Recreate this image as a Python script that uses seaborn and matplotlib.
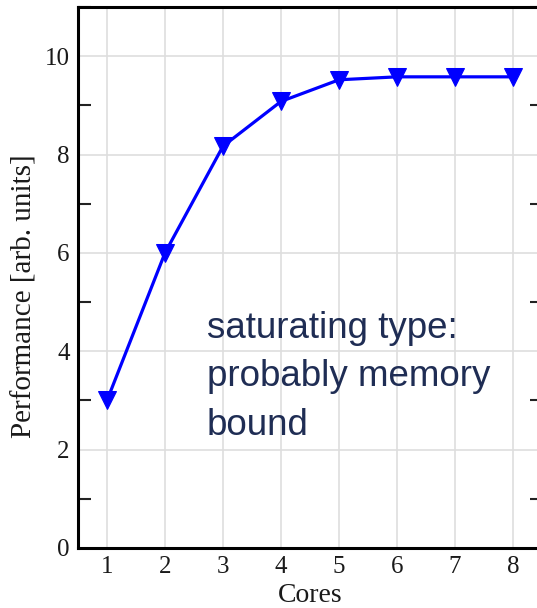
import matplotlib
matplotlib.use("Agg")
import matplotlib.pyplot as plt
import seaborn as sns
import pandas as pd
from matplotlib.ticker import MultipleLocator

cores = [1, 2, 3, 4, 5, 6, 7, 8]
performance = [3.0, 6.0, 8.17, 9.08, 9.52, 9.58, 9.58, 9.58]
annotation = "saturating type:\nprobably memory\nbound"

df = pd.DataFrame({"Cores": cores, "Performance": performance})

sns.set_theme(style="white")
plt.rcParams["font.family"] = ["Liberation Serif", "DejaVu Serif"]

fig = plt.figure(figsize=(5.37, 6.08), dpi=100)
ax = fig.add_axes([78 / 537, 60 / 608, 464 / 537, 541 / 608])

sns.lineplot(data=df, x="Cores", y="Performance", ax=ax, color="#0000ff",
             linewidth=2.3, marker="v", markersize=12.5, markeredgecolor="#0000ff",
             markerfacecolor="#0000ff")

ax.set_xlim(0.5, 8.5)
ax.set_ylim(0, 11)
ax.set_xticks(cores)
ax.set_yticks([0, 2, 4, 6, 8, 10])
ax.yaxis.set_minor_locator(MultipleLocator(1))
ax.grid(True, which="major", color="#dedede", linewidth=1.2)
ax.set_axisbelow(True)
ax.tick_params(axis="both", which="major", length=0, labelsize=18, pad=6,
               labelcolor="#1a1a1a")
ax.tick_params(axis="y", which="minor", length=9, width=1.5, direction="in",
               left=True, right=True, color="#222222")
ax.tick_params(axis="x", which="minor", length=0)
for s in ax.spines.values():
    s.set_visible(True)
    s.set_color("black")
    s.set_linewidth(2.2)

ax.set_xlabel("Cores", fontsize=20, labelpad=3, color="#1a1a1a")
ax.set_ylabel("Performance [arb. units]", fontsize=21, color="#1a1a1a")
ax.yaxis.set_label_coords(-0.088, 0.466)

ax.text(207 / 537, 1 - 435 / 608, annotation, transform=fig.transFigure,
        fontsize=26.5, family=["Liberation Sans", "DejaVu Sans"], color="#1f2d54",
        ha="left", va="baseline", linespacing=1.5)
fig.savefig("out.png", dpi=100)
